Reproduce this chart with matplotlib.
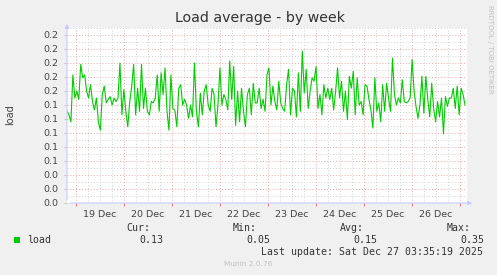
import matplotlib
matplotlib.use('Agg')
import matplotlib.pyplot as plt
import numpy as np

# load values left to right (30 min-ish steps)
load = [
    0.131, 0.126, 0.116, 0.183, 0.150, 0.160, 0.148, 0.198, 0.179, 0.183,
    0.160, 0.150, 0.169, 0.145, 0.133, 0.150, 0.116, 0.104, 0.155, 0.167,
    0.143, 0.148, 0.152, 0.140, 0.150, 0.145, 0.150, 0.200, 0.126,
    0.162, 0.131, 0.109, 0.145, 0.167, 0.198, 0.126, 0.164, 0.131, 0.198,
    0.135, 0.164, 0.131, 0.126, 0.145, 0.143, 0.150, 0.183, 0.131, 0.186,
    0.155, 0.193, 0.131, 0.104, 0.183, 0.135, 0.133, 0.109, 0.164,
    0.169, 0.140, 0.148, 0.140, 0.121, 0.140, 0.123, 0.200, 0.131, 0.109,
    0.157, 0.126, 0.160, 0.169, 0.140, 0.131, 0.164, 0.155, 0.109, 0.140,
    0.193, 0.140, 0.155, 0.148, 0.133, 0.203, 0.148, 0.195, 0.111,
    0.160, 0.116, 0.164, 0.131, 0.109, 0.155, 0.164, 0.126, 0.171, 0.143,
    0.143, 0.164, 0.135, 0.148, 0.131, 0.183, 0.193, 0.140, 0.167, 0.145,
    0.133, 0.174, 0.143, 0.135, 0.131, 0.169, 0.191, 0.126, 0.164,
    0.160, 0.123, 0.186, 0.131, 0.217, 0.157, 0.191, 0.135, 0.160, 0.179,
    0.174, 0.195, 0.135, 0.155, 0.126, 0.169, 0.150, 0.164, 0.148, 0.164,
    0.133, 0.160, 0.193, 0.150, 0.174, 0.131, 0.160, 0.119, 0.181,
    0.164, 0.188, 0.126, 0.179, 0.140, 0.145, 0.126, 0.169, 0.167, 0.148,
    0.133, 0.107, 0.179, 0.131, 0.143, 0.116, 0.169, 0.131, 0.171, 0.150,
    0.131, 0.207, 0.155, 0.140, 0.150, 0.143, 0.176, 0.145, 0.143,
    0.145, 0.150, 0.205, 0.160, 0.138, 0.121, 0.140, 0.181, 0.128, 0.181,
    0.148, 0.123, 0.171, 0.135, 0.116, 0.145, 0.123, 0.150, 0.099, 0.152,
    0.138, 0.150, 0.150, 0.164, 0.135, 0.167, 0.126, 0.164, 0.155, 0.140,
]

# hours since 18 Dec 00:00
t_end = 9 * 24 + 3 + 35 / 60          # Sat Dec 27 03:35:19
t_start = t_end - 200                  # munin week = 400 px of 30 min
day_labels = ['19 Dec', '20 Dec', '21 Dec', '22 Dec',
              '23 Dec', '24 Dec', '25 Dec', '26 Dec']
stats_names = ['Cur:', 'Min:', 'Avg:', 'Max:']
stats_vals = ['0.13', '0.05', '0.15', '0.35']

bg = '#f0f0f0'
txt = '#444444'
W, H = 497, 275
fig = plt.figure(figsize=(W / 100, H / 100), dpi=100, facecolor=bg)
ax = fig.add_axes([67 / W, (H - 203) / H, 400 / W, 175 / H])
ax.set_facecolor('white')

times = t_start + np.arange(len(load)) * (200 / len(load))
ax.set_xlim(t_start, t_end)
ax.set_ylim(0, 0.25)

# grid
for h in np.arange(24, t_end, 6):
    major = (h % 24 == 0)
    ax.axvline(h, color='#e8a8a8' if major else '#cfcfcf', lw=0.7,
               ls=(0, (1, 2)), zorder=1)
for v in np.arange(0.01, 0.251, 0.01):
    major = abs(v / 0.02 - round(v / 0.02)) < 1e-6
    ax.axhline(v, color='#e8a8a8' if major else '#cfcfcf', lw=0.7,
               ls=(0, (1, 2)), zorder=1)

ax.plot(times, load, color='#00cc00', lw=0.8, zorder=3)

for s in ax.spines.values():
    s.set_visible(False)

yt = np.arange(0, 0.241, 0.02)
ax.set_yticks(yt)
ax.set_yticklabels(['%.1f' % v for v in yt])
ax.set_xticks(np.arange(24, t_end, 24))
ax.set_xticklabels([])
ax.set_xticks(np.arange(36, t_end, 24), minor=True)
ax.set_xticklabels(day_labels, minor=True)
ax.tick_params(axis='x', which='minor', length=0, pad=5, labelsize=6.8,
               labelcolor=txt)
ax.tick_params(axis='x', which='major', length=2, color='#e08080')
ax.tick_params(axis='y', length=2, color='#c8c8c8', pad=4, labelsize=6.8,
               labelcolor=txt)

# munin style axis arrows
axc = '#c8c8ff'
ax.annotate('', xy=(0, 1.04), xytext=(0, 0), xycoords='axes fraction',
            arrowprops=dict(arrowstyle='-|>', color=axc, lw=0.8,
                            mutation_scale=6), annotation_clip=False)
ax.annotate('', xy=(1.02, 0), xytext=(0, 0), xycoords='axes fraction',
            arrowprops=dict(arrowstyle='-|>', color=axc, lw=0.8,
                            mutation_scale=6), annotation_clip=False)

fig.text(260 / W, 1 - 18 / H, 'Load average - by week', ha='center',
         va='center', fontsize=10.2, color='#333333')
fig.text(10 / W, 1 - 115 / H, 'load', rotation=90, ha='center', va='center',
         fontsize=7, color=txt)
fig.text(490 / W, 1 - 5 / H, 'RRDTOOL / TOBI OETIKER', rotation=270,
         ha='center', va='top', fontsize=5, color='#c0c0c0')

mono = 'DejaVu Sans Mono'
fig.patches.append(plt.Rectangle((14 / W, 1 - 243 / H), 6 / W, 6 / H,
                                 transform=fig.transFigure,
                                 facecolor='#00cc00', edgecolor='none'))
fig.text(27 / W, 1 - 240 / H, 'load', family=mono, fontsize=7.1,
         va='center', color='#333333')
for i, (n, v) in enumerate(zip(stats_names, stats_vals)):
    fig.text((150 + i * 107) / W, 1 - 228 / H, n, family=mono, fontsize=7.1,
             va='center', ha='right', color='#333333')
    fig.text((163 + i * 107) / W, 1 - 240 / H, v, family=mono, fontsize=7.1,
             va='center', ha='right', color='#333333')
fig.text(483 / W, 1 - 252 / H, 'Last update: Sat Dec 27 03:35:19 2025',
         family=mono, fontsize=7.1, va='center', ha='right', color='#333333')
fig.text(248 / W, 1 - 264 / H, 'Munin 2.0.76', ha='center', va='center',
         fontsize=5.3, color='#c0c0c0')

fig.savefig('out.png', dpi=100, facecolor=bg)
